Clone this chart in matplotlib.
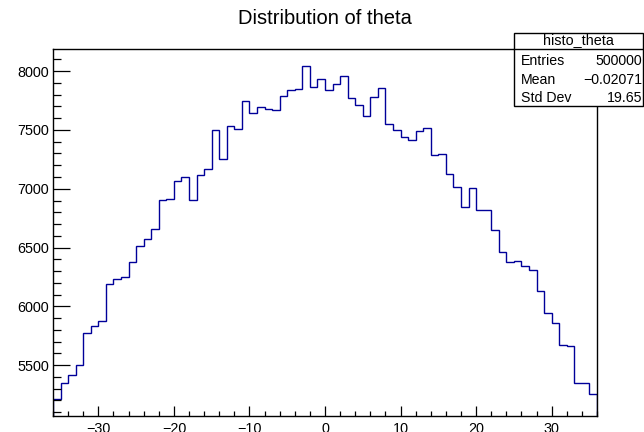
import numpy as np
import matplotlib
matplotlib.use("Agg")
import matplotlib.pyplot as plt
from matplotlib.patches import Rectangle
from matplotlib.lines import Line2D
from matplotlib.ticker import MultipleLocator

plt.rcParams['font.family'] = ['Liberation Sans', 'DejaVu Sans']

# histogram of theta: 72 bins of width 1 between -36 and 36
theta_lo = -36
theta_hi = 36
counts = [5210, 5345, 5420, 5500, 5772, 5833, 5872, 6194, 6230, 6252,
          6375, 6515, 6572, 6655, 6901, 6915, 7068, 7102, 6901, 7116,
          7164, 7496, 7250, 7535, 7504, 7750, 7643, 7694, 7676, 7667,
          7790, 7841, 7850, 8046, 7866, 7932, 7843, 7891, 7955, 7768,
          7708, 7617, 7776, 7858, 7553, 7497, 7437, 7414, 7488, 7513,
          7285, 7297, 7126, 7017, 6844, 7007, 6820, 6820, 6648, 6465,
          6377, 6384, 6343, 6310, 6129, 5945, 5859, 5675, 5667, 5352,
          5347, 5257]

hist_name = "histo_theta"
stat_labels = ["Entries", "Mean", "Std Dev"]
stat_values = ["500000", "\u22120.02071", "19.65"]

edges = np.linspace(theta_lo, theta_hi, len(counts) + 1)

fig = plt.figure(figsize=(6.44, 4.32), dpi=100)
ax = fig.add_axes([53 / 644, 1 - 416 / 432, 544 / 644, 367 / 432])

ax.stairs(counts, edges, color='#000099', linewidth=1.0)

# y range with 5% margin like ROOT
cmin, cmax = min(counts), max(counts)
d = cmax - cmin
ax.set_xlim(theta_lo, theta_hi)
ax.set_ylim(cmin - 0.05 * d, cmax + 0.05 * d)

ax.xaxis.set_major_locator(MultipleLocator(10))
ax.xaxis.set_minor_locator(MultipleLocator(2))
ax.yaxis.set_major_locator(MultipleLocator(500))
ax.yaxis.set_minor_locator(MultipleLocator(100))
ax.tick_params(axis='both', which='both', direction='in', top=False, right=False,
               labelsize=10.4, width=0.9, color='black')
ax.tick_params(axis='x', which='major', length=7.2, pad=4)
ax.tick_params(axis='x', which='minor', length=3.6)
ax.tick_params(axis='y', which='major', length=11.9, pad=3)
ax.tick_params(axis='y', which='minor', length=5.9)
for s in ax.spines.values():
    s.set_linewidth(1.0)
    s.set_color('black')

fig.text(324.5 / 644, 1 - 19 / 432, "Distribution of theta", ha='center', va='center',
         fontsize=14.5)

# statistics box
bx0, bx1 = 514 / 644, 643 / 644
by0, by1 = 1 - 106 / 432, 1 - 32.7 / 432
fig.patches.append(Rectangle((bx0, by0), bx1 - bx0, by1 - by0, transform=fig.transFigure,
                             facecolor='white', edgecolor='black', linewidth=1.0, zorder=5))
hy = 1 - 49.3 / 432
fig.lines.append(Line2D([bx0, bx1], [hy, hy], transform=fig.transFigure, color='black',
                        linewidth=1.0, zorder=6))
fig.text((bx0 + bx1) / 2, 1 - 39.8 / 432, hist_name, ha='center', va='center',
         fontsize=10.4, zorder=7)
row_y = [60.7, 80, 98.3]
for lab, val, yy in zip(stat_labels, stat_values, row_y):
    fig.text(520.7 / 644, 1 - yy / 432, lab, ha='left', va='center', fontsize=10.2, zorder=7)
    fig.text(642 / 644, 1 - yy / 432, val, ha='right', va='center', fontsize=10.2, zorder=7)

fig.savefig("out.png", dpi=100)
